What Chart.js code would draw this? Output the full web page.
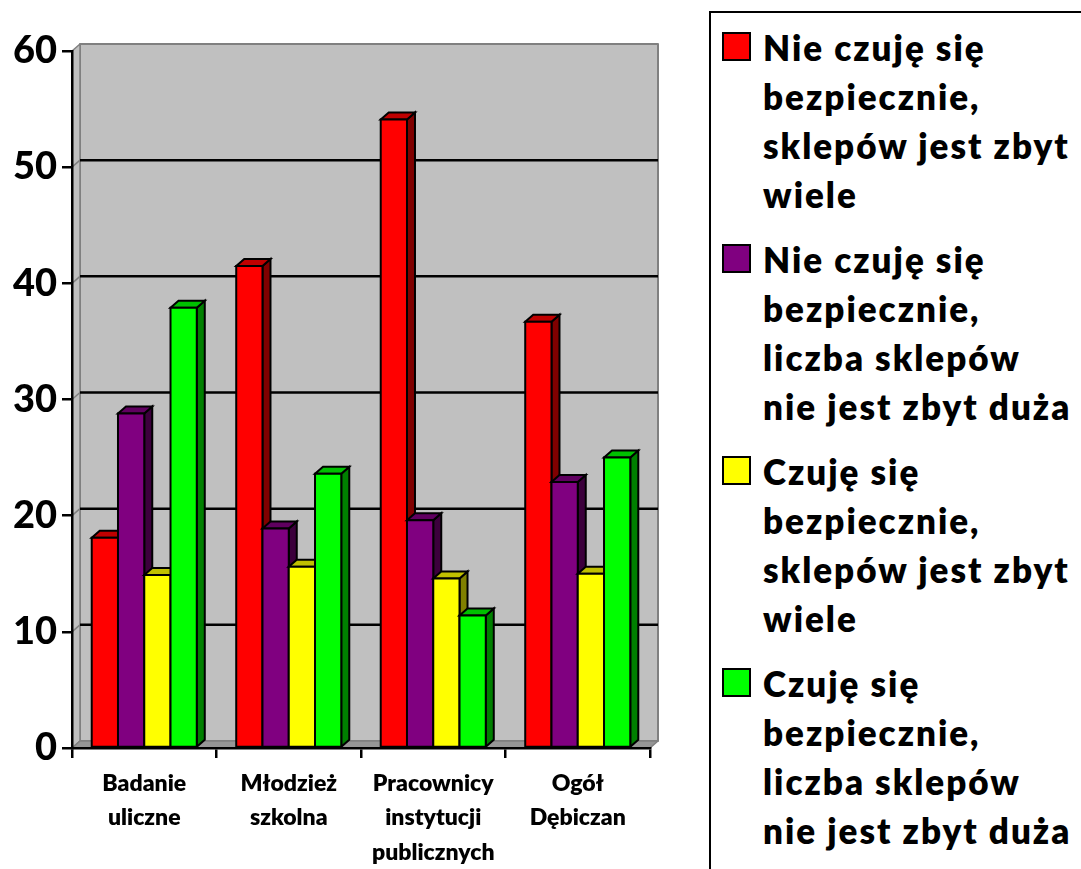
<!DOCTYPE html>
<html>
<head>
<meta charset="utf-8">
<script src="https://cdn.jsdelivr.net/npm/chart.js@4"></script>
<style>
  body { margin: 0; background: #fff; width: 1081px; height: 869px; overflow: hidden; position: relative; font-family: Lato, sans-serif; }
  #wrap { position: absolute; left: 0; top: 0; width: 700px; height: 869px; }
  #legend { position: absolute; left: 709px; top: 11px; width: 420px; height: 900px; border: 2px solid #000; box-sizing: border-box; padding-top: 10px; }
  .item { position: relative; padding-left: 52px; margin-bottom: 16px; font-weight: 800; font-size: 35px; line-height: 49px; letter-spacing: 2px; color: #000; white-space: nowrap; }
  .sw { position: absolute; left: 11px; top: 9px; width: 25px; height: 25px; border: 2px solid #000; }
</style>
</head>
<body>
<div id="wrap"><canvas id="chart" width="700" height="869"></canvas></div>
<div id="legend"></div>
<script>
const categories = [
  ["Badanie", "uliczne"],
  ["Młodzież", "szkolna"],
  ["Pracownicy", "instytucji", "publicznych"],
  ["Ogół", "Dębiczan"]
];
const seriesNames = [
  ["Nie czuję się", "bezpiecznie,", "sklepów jest zbyt", "wiele"],
  ["Nie czuję się", "bezpiecznie,", "liczba sklepów", "nie jest zbyt duża"],
  ["Czuję się", "bezpiecznie,", "sklepów jest zbyt", "wiele"],
  ["Czuję się", "bezpiecznie,", "liczba sklepów", "nie jest zbyt duża"]
];
const unsafeMany = [18.1, 41.5, 54.1, 36.7];
const unsafeFew = [28.8, 18.9, 19.6, 22.9];
const safeMany = [14.9, 15.6, 14.6, 15.0];
const safeFew = [37.9, 23.6, 11.4, 25.0];
const yTicks = [0, 10, 20, 30, 40, 50, 60];

const frontColors = ["#ff0000", "#800080", "#ffff00", "#00ff00"];
const sideColors = ["#800000", "#3c003c", "#808000", "#008000"];
const topColors = ["#c00000", "#600060", "#c0c000", "#00c000"];
const dx = 8, dy = 7;

function poly(ctx, pts, fill, stroke, lw) {
  ctx.beginPath();
  ctx.moveTo(pts[0][0], pts[0][1]);
  for (let i = 1; i < pts.length; i++) ctx.lineTo(pts[i][0], pts[i][1]);
  ctx.closePath();
  if (fill) { ctx.fillStyle = fill; ctx.fill(); }
  if (stroke) { ctx.strokeStyle = stroke; ctx.lineWidth = lw || 1; ctx.stroke(); }
}

// grey back wall, side wall, floor and the black gridlines on the back wall
const walls = {
  id: "walls",
  beforeDraw(chart) {
    const ctx = chart.ctx, a = chart.chartArea, y = chart.scales.y;
    ctx.save();
    ctx.lineJoin = "round";
    poly(ctx, [[a.left + dx, a.top - dy], [a.right + dx, a.top - dy], [a.right + dx, a.bottom - dy], [a.left + dx, a.bottom - dy]], "#c0c0c0", "#808080", 2);
    poly(ctx, [[a.left, a.top], [a.left + dx, a.top - dy], [a.left + dx, a.bottom - dy], [a.left, a.bottom]], "#c0c0c0", "#808080", 1.5);
    poly(ctx, [[a.left, a.bottom], [a.left + dx, a.bottom - dy], [a.right + dx, a.bottom - dy], [a.right, a.bottom]], "#969696", "#808080", 1.5);
    y.ticks.forEach(t => {
      if (t.value <= 0 || t.value >= 60) return;
      const py = y.getPixelForValue(t.value);
      ctx.strokeStyle = "#808080"; ctx.lineWidth = 1.5;
      ctx.beginPath(); ctx.moveTo(a.left, py); ctx.lineTo(a.left + dx, py - dy); ctx.stroke();
      ctx.strokeStyle = "#000"; ctx.lineWidth = 2.5;
      ctx.beginPath(); ctx.moveTo(a.left + dx, py - dy); ctx.lineTo(a.right + dx, py - dy); ctx.stroke();
    });
    ctx.restore();
  }
};

// redraw each bar as a 3D column using the positions Chart.js computed
const bars3d = {
  id: "bars3d",
  afterDatasetsDraw(chart) {
    const ctx = chart.ctx;
    const metas = chart.data.datasets.map((d, i) => chart.getDatasetMeta(i));
    ctx.save();
    ctx.lineJoin = "miter";
    for (let c = 0; c < categories.length; c++) {
      metas.forEach((m, i) => {
        const p = m.data[c].getProps(["x", "y", "base", "width"], true);
        const l = p.x - p.width / 2, r = p.x + p.width / 2;
        poly(ctx, [[r, p.y], [r + dx, p.y - dy], [r + dx, p.base - dy], [r, p.base]], sideColors[i], "#000", 2);
        poly(ctx, [[l, p.y], [l + dx, p.y - dy], [r + dx, p.y - dy], [r, p.y]], topColors[i], "#000", 2);
        poly(ctx, [[l, p.y], [r, p.y], [r, p.base], [l, p.base]], frontColors[i], "#000", 2);
      });
    }
    ctx.restore();
  }
};

const values = [unsafeMany, unsafeFew, safeMany, safeFew];

new Chart(document.getElementById("chart"), {
  type: "bar",
  data: {
    labels: categories,
    datasets: values.map((v, i) => ({
      label: seriesNames[i].join(" "),
      data: v,
      backgroundColor: frontColors[i],
      borderWidth: 0,
      barPercentage: 1,
      categoryPercentage: 0.727
    }))
  },
  options: {
    responsive: false,
    animation: false,
    layout: { padding: { top: 51, right: 50, left: 0, bottom: 0 } },
    plugins: { legend: { display: false }, tooltip: { enabled: false } },
    scales: {
      y: {
        min: 0,
        max: 60,
        afterBuildTicks: s => { s.ticks = yTicks.map(v => ({ value: v })); },
        afterFit: s => { s.width = 72; },
        border: { display: true, color: "#000", width: 2.5 },
        grid: { drawOnChartArea: false, drawTicks: true, tickLength: 10, color: "#000", lineWidth: 2.5 },
        ticks: { color: "#000", padding: 5, font: { family: "Lato", weight: 900, size: 38 } }
      },
      x: {
        afterFit: s => { s.height = 121; },
        border: { display: true, color: "#000", width: 2.5 },
        grid: { offset: true, drawOnChartArea: false, drawTicks: true, tickLength: 10, color: "#000", lineWidth: 2.5 },
        ticks: { color: "#000", padding: 9, maxRotation: 0, autoSkip: false, font: { family: "Lato", weight: 800, size: 23, lineHeight: 1.48 } }
      }
    }
  },
  plugins: [walls, bars3d]
});

const legend = document.getElementById("legend");
seriesNames.forEach((lines, i) => {
  const item = document.createElement("div");
  item.className = "item";
  const sw = document.createElement("span");
  sw.className = "sw";
  sw.style.background = frontColors[i];
  item.appendChild(sw);
  lines.forEach((t, j) => {
    if (j) item.appendChild(document.createElement("br"));
    item.appendChild(document.createTextNode(t));
  });
  legend.appendChild(item);
});
</script>
</body>
</html>
